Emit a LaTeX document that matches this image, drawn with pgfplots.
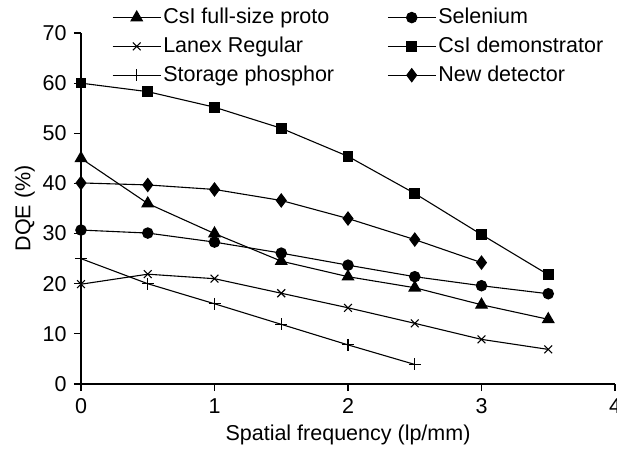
\documentclass[border=0pt]{standalone}
\usepackage{fontspec}
\setmainfont{Liberation Sans}
\usepackage{pgfplots}
\pgfplotsset{compat=1.18}
\newcommand{\chartfont}{\fontsize{21.5}{24}\selectfont}
\begin{document}
\chartfont
\begin{tikzpicture}
\begin{axis}[
  at={(0pt,0pt)}, anchor=south west,
  scale only axis, width=534pt, height=351pt,
  xmin=0, xmax=4, ymin=0, ymax=70,
  axis lines=left, axis line style={-, line width=1.2pt},
  xtick={0,1,2,3,4}, ytick={0,10,...,70},
  tick align=outside, major tick length=7pt,
  tick style={line width=1.2pt, black},
  /pgf/number format/assume math mode=true,
  ticklabel style={font=\chartfont},
  xlabel={Spatial frequency (lp/mm)}, ylabel={DQE (\%)},
  label style={font=\chartfont},
  xlabel style={at={(axis description cs:0.5,-0.145)}, anchor=center},
  ylabel style={at={(axis description cs:-0.105,0.5)}, anchor=center},
  clip=false,
  every axis plot/.append style={black, line width=1.1pt, mark options={solid, fill=black}},
  legend columns=2,
  legend cell align=left,
  legend style={at={(axis description cs:0.058,1.077)}, anchor=north west,
    draw=none, fill=none, inner sep=0pt, row sep=6pt,
    font=\chartfont,
    /tikz/every even column/.append style={column sep=51pt}},
  legend image code/.code={\draw[mark repeat=2, mark phase=2, line width=1.1pt]
    plot coordinates {(0pt,0pt) (24pt,0pt) (48pt,0pt)};},
]
% CsI full-size prototype
\addplot[mark=triangle*, mark size=6.5pt] coordinates {
  (0,45) (0.5,36) (1,30) (1.5,24.5) (2,21.4) (2.5,19.2) (3,15.8) (3.5,12.9)};
\addlegendentry{CsI full-size proto}
% Selenium
\addplot[mark=*, mark size=5.2pt] coordinates {
  (0,30.7) (0.5,30.1) (1,28.3) (1.5,26.1) (2,23.7) (2.5,21.4) (3,19.6) (3.5,18.0)};
\addlegendentry{Selenium}
% Lanex Regular
\addplot[mark=x, mark size=5.5pt] coordinates {
  (0,19.9) (0.5,21.9) (1,21) (1.5,18.1) (2,15.2) (2.5,12.1) (3,8.9) (3.5,6.9)};
\addlegendentry{Lanex Regular}
% CsI demonstrator
\addplot[mark=square*, mark size=4.8pt] coordinates {
  (0,60) (0.5,58.3) (1,55.2) (1.5,51) (2,45.4) (2.5,38) (3,29.8) (3.5,21.8)};
\addlegendentry{CsI demonstrator}
% Storage phosphor
\addplot[mark=+, mark size=6pt] coordinates {
  (0,25) (0.5,20) (1,16) (1.5,11.9) (2,7.8) (2.5,3.9)};
\addlegendentry{Storage phosphor}
% New detector
\addplot[mark=diamond*, mark size=6.5pt] coordinates {
  (0,40.1) (0.5,39.7) (1,38.8) (1.5,36.6) (2,33) (2.5,28.8) (3,24.2)};
\addlegendentry{New detector}
\end{axis}
\pgfresetboundingbox
\path (-81pt,-70pt) rectangle (536pt,384pt);
\end{tikzpicture}
\end{document}
